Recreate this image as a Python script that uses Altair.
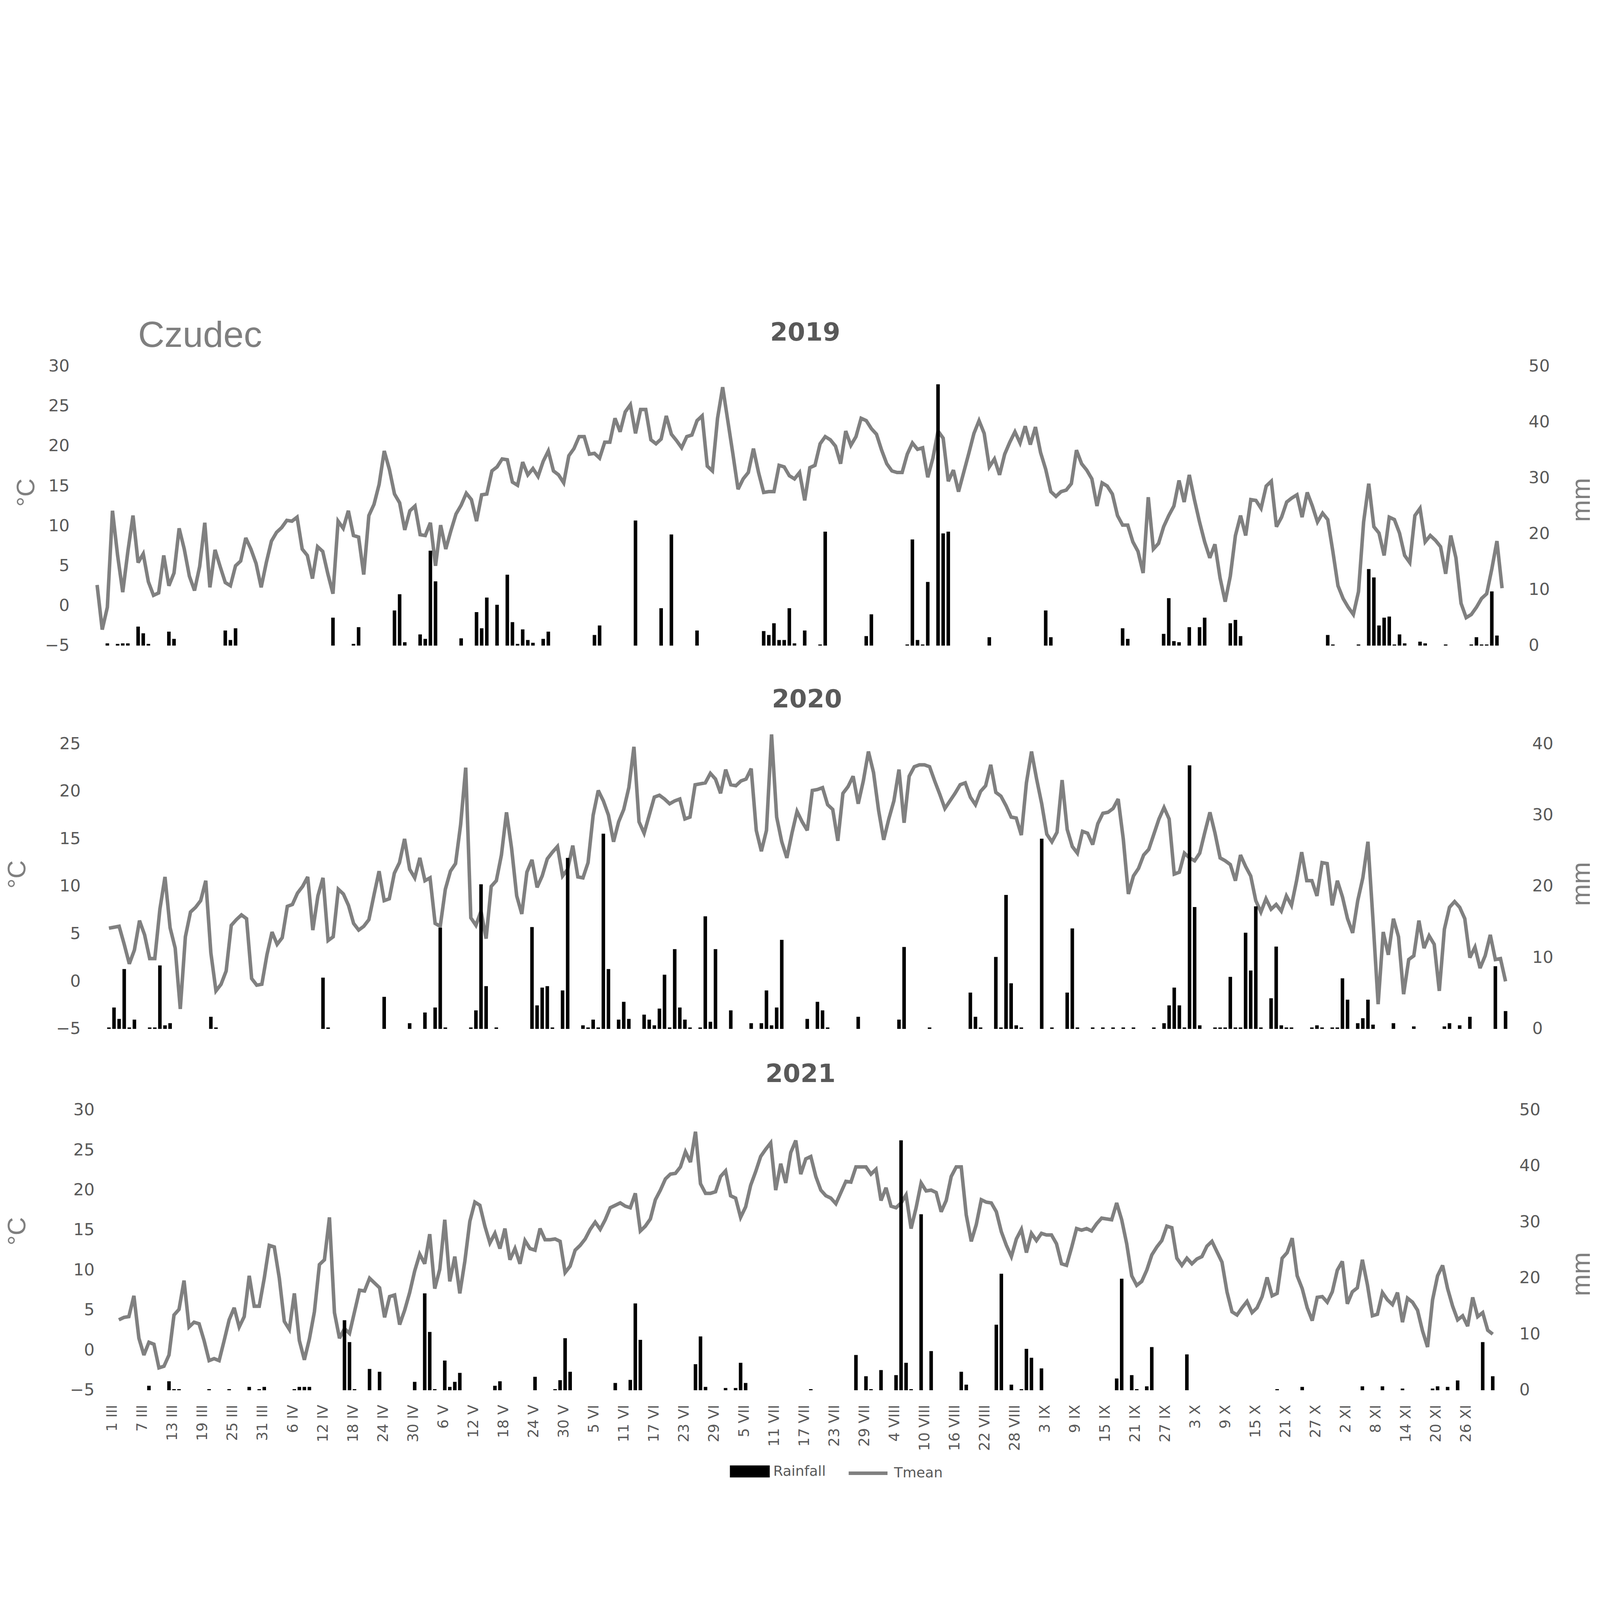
import altair as alt
import pandas as pd

# ---------------- data ----------------
STATION = "Czudec"

DATE_LABELS = [
    "1 III", "7 III", "13 III", "19 III", "25 III", "31 III",
    "6 IV", "12 IV", "18 IV", "24 IV", "30 IV",
    "6 V", "12 V", "18 V", "24 V", "30 V",
    "5 VI", "11 VI", "17 VI", "23 VI", "29 VI",
    "5 VII", "11 VII", "17 VII", "23 VII", "29 VII",
    "4 VIII", "10 VIII", "16 VIII", "22 VIII", "28 VIII",
    "3 IX", "9 IX", "15 IX", "21 IX", "27 IX",
    "3 X", "9 X", "15 X", "21 X", "27 X",
    "2 XI", "8 XI", "14 XI", "20 XI", "26 XI",
]

# daily mean temperature, 1 March .. 30 November (275 days)
TMEAN_2019 = [
    2.6, -3.0, -0.2, 11.9, 6.3, 1.7, 6.8, 11.3, 5.4, 6.5,
    3.0, 1.3, 1.6, 6.3, 2.5, 4.1, 9.7, 7.1, 3.7, 1.9,
    4.9, 10.4, 2.3, 7.0, 4.9, 2.9, 2.5, 5.0, 5.6, 8.5,
    7.1, 5.3, 2.3, 5.4, 8.1, 9.2, 9.8, 10.7, 10.6, 11.1,
    7.1, 6.3, 3.4, 7.4, 6.8, 4.0, 1.5, 10.6, 9.7, 11.9,
    8.8, 8.6, 3.9, 11.3, 12.7, 15.2, 19.4, 17.1, 14.0, 12.9,
    9.5, 11.9, 12.5, 8.9, 8.8, 10.4, 5.0, 10.1, 7.1, 9.4,
    11.5, 12.6, 14.1, 13.3, 10.6, 13.9, 14.0, 16.9, 17.4, 18.4,
    18.3, 15.5, 15.1, 18.0, 16.4, 17.2, 16.2, 18.1, 19.4, 16.9,
    16.4, 15.4, 18.8, 19.7, 21.2, 21.2, 19.0, 19.1, 18.5, 20.5,
    20.5, 23.5, 21.8, 24.3, 25.2, 21.6, 24.6, 24.6, 20.8, 20.3,
    20.9, 23.8, 21.5, 20.7, 19.8, 21.2, 21.4, 23.2, 23.8, 17.5,
    16.9, 23.5, 27.4, 23.2, 19.0, 14.6, 15.9, 16.7, 19.7, 16.7,
    14.2, 14.3, 14.3, 17.6, 17.4, 16.3, 15.9, 16.7, 13.2, 17.3,
    17.6, 20.3, 21.2, 20.8, 20.0, 17.8, 21.9, 20.1, 21.2, 23.5,
    23.2, 22.2, 21.5, 19.5, 17.8, 16.9, 16.7, 16.7, 19.0, 20.4,
    19.6, 19.8, 16.1, 18.5, 21.9, 21.0, 15.6, 17.0, 14.3, 16.7,
    19.1, 21.6, 23.2, 21.6, 17.4, 18.4, 16.4, 19.0, 20.5, 21.8,
    20.4, 22.5, 20.2, 22.4, 19.2, 17.1, 14.3, 13.7, 14.3, 14.5,
    15.3, 19.5, 17.8, 17.0, 15.9, 12.5, 15.4, 15.0, 14.0, 11.3,
    10.1, 10.1, 8.0, 6.8, 4.1, 13.6, 7.1, 7.8, 9.9, 11.3,
    12.5, 15.7, 13.0, 16.4, 13.3, 10.5, 8.0, 6.0, 7.7, 3.5,
    0.5, 3.7, 8.8, 11.3, 8.8, 13.3, 13.2, 12.2, 15.0, 15.6,
    9.9, 11.1, 13.0, 13.5, 13.9, 11.1, 14.2, 12.5, 10.5, 11.6,
    10.8, 6.8, 2.5, 0.9, -0.2, -1.1, 1.75, 10.5, 15.3, 9.9,
    9.1, 6.3, 11.1, 10.8, 9.1, 6.3, 5.4, 11.3, 12.2, 8.0,
    8.8, 8.2, 7.4, 4.0, 8.8, 6.0, 0.3, -1.5, -1.1, -0.2,
    0.9, 1.5, 4.6, 8.1, 2.2,
]

TMEAN_2020 = [
    5.6, 5.7, 5.8, 3.9, 1.85, 3.3, 6.4, 4.9, 2.4, 2.4,
    7.6, 11.0, 5.65, 3.5, -2.9, 4.7, 7.3, 7.8, 8.5, 10.6,
    3.0, -1.0, -0.3, 1.1, 5.9, 6.5, 7.0, 6.6, 0.3, -0.4,
    -0.3, 2.8, 5.2, 3.9, 4.6, 7.9, 8.1, 9.3, 10.0, 11.0,
    5.4, 9.0, 10.9, 4.3, 4.7, 9.7, 9.2, 8.0, 6.1, 5.4,
    5.8, 6.5, 9.1, 11.6, 8.5, 8.7, 11.4, 12.5, 15.0, 11.8,
    10.9, 13.0, 10.6, 10.9, 6.1, 5.8, 9.7, 11.6, 12.4, 16.5,
    22.5, 6.7, 5.9, 7.4, 4.5, 10.0, 10.6, 13.3, 17.8, 14.0,
    9.0, 7.1, 11.5, 12.8, 9.9, 11.1, 12.9, 13.6, 14.2, 11.1,
    11.8, 14.3, 11.0, 10.9, 12.5, 17.5, 20.1, 19.0, 17.5, 14.7,
    16.8, 18.1, 20.4, 24.7, 16.8, 15.6, 17.5, 19.4, 19.6, 19.2,
    18.7, 19.0, 19.2, 17.1, 17.3, 20.7, 20.8, 20.9, 21.9, 21.3,
    19.8, 22.3, 20.7, 20.6, 21.1, 21.3, 22.4, 15.9, 13.7, 15.9,
    26.0, 17.3, 14.7, 13.0, 15.6, 17.9, 16.8, 15.9, 20.1, 20.2,
    20.4, 18.6, 18.1, 14.8, 19.8, 20.5, 21.6, 18.7, 21.1, 24.2,
    22.0, 18.0, 14.9, 17.1, 19.0, 22.3, 16.7, 21.6, 22.6, 22.8,
    22.8, 22.6, 21.1, 19.7, 18.2, 19.0, 19.8, 20.7, 20.9, 19.4,
    18.6, 20.0, 20.6, 22.8, 19.9, 19.5, 18.5, 17.3, 17.2, 15.4,
    20.9, 24.2, 21.3, 18.7, 15.5, 14.7, 15.7, 21.2, 16.0, 14.2,
    13.5, 15.8, 15.6, 14.4, 16.6, 17.7, 17.8, 18.2, 19.2, 15.0,
    9.2, 11.1, 11.9, 13.3, 13.9, 15.5, 17.1, 18.3, 17.1, 11.3,
    11.5, 13.5, 13.0, 12.7, 13.5, 15.7, 17.8, 15.6, 13.0, 12.7,
    12.3, 10.6, 13.3, 12.1, 11.1, 8.5, 7.3, 8.7, 7.6, 8.1,
    7.4, 9.0, 8.0, 10.6, 13.6, 10.6, 10.6, 9.0, 12.5, 12.4,
    8.0, 10.6, 8.9, 6.6, 5.1, 8.5, 10.9, 14.7, 6.4, -2.4,
    5.2, 2.8, 6.6, 4.7, -1.35, 2.3, 2.7, 6.4, 3.5, 4.8,
    3.9, -1.0, 5.5, 7.8, 8.4, 7.8, 6.6, 2.5, 3.6, 1.4,
    2.7, 4.9, 2.3, 2.4, 0.0,
]

TMEAN_2021 = [
    3.8, 4.1, 4.2, 6.8, 1.5, -0.6, 1.0, 0.75, -2.2, -2.0,
    -0.6, 4.4, 5.1, 8.7, 2.9, 3.5, 3.3, 1.2, -1.3, -1.05,
    -1.3, 1.2, 3.8, 5.3, 2.9, 4.2, 9.3, 5.5, 5.5, 9.0,
    13.1, 12.9, 9.0, 3.6, 2.6, 7.1, 1.2, -1.2, 1.4, 4.8,
    10.7, 11.3, 16.6, 4.7, 1.5, 2.7, 2.1, 4.8, 7.5, 7.4,
    9.0, 8.4, 7.8, 4.1, 6.7, 6.9, 3.2, 5.0, 7.2, 9.9,
    12.0, 10.8, 14.5, 7.7, 10.1, 16.3, 8.6, 11.7, 7.1, 11.1,
    16.1, 18.5, 18.1, 15.5, 13.4, 14.6, 12.7, 15.2, 11.3, 12.7,
    10.8, 13.7, 12.7, 12.5, 15.2, 13.8, 13.8, 13.9, 13.6, 9.7,
    10.5, 12.5, 13.1, 13.9, 15.1, 16.0, 15.1, 16.3, 17.8, 18.1,
    18.4, 18.0, 17.8, 19.6, 14.9, 15.5, 16.4, 18.8, 20.0, 21.4,
    22.0, 22.1, 22.9, 24.8, 23.5, 27.3, 20.8, 19.6, 19.6, 19.8,
    21.7, 22.4, 19.3, 19.0, 16.6, 17.9, 20.6, 22.3, 24.2, 25.1,
    25.9, 20.0, 23.3, 20.9, 24.7, 26.2, 22.0, 23.9, 24.2, 21.7,
    20.0, 19.3, 19.0, 18.3, 19.7, 21.1, 21.0, 22.9, 22.9, 22.9,
    22.0, 22.6, 18.7, 20.3, 18.0, 17.8, 18.4, 19.4, 15.2, 17.8,
    20.9, 19.9, 20.0, 19.7, 17.3, 18.7, 21.7, 22.9, 22.9, 16.9,
    13.6, 15.7, 18.8, 18.5, 18.4, 17.3, 14.8, 13.1, 11.7, 13.9,
    15.1, 12.2, 14.6, 13.7, 14.6, 14.4, 14.4, 13.3, 10.8, 10.6,
    12.8, 15.2, 15.0, 15.2, 14.9, 15.8, 16.5, 16.4, 16.3, 18.4,
    16.3, 13.3, 9.3, 8.1, 8.6, 10.0, 11.9, 12.9, 13.7, 15.5,
    15.3, 11.5, 10.6, 11.5, 10.8, 11.4, 11.7, 13.0, 13.6, 12.3,
    11.0, 7.3, 4.8, 4.4, 5.3, 6.1, 4.7, 5.3, 6.7, 9.1,
    6.8, 7.1, 11.5, 12.2, 14.0, 9.3, 7.7, 5.3, 3.7, 6.6,
    6.7, 6.0, 7.3, 10.0, 11.1, 5.8, 7.3, 7.8, 11.3, 8.2,
    4.3, 4.5, 7.2, 6.3, 5.7, 7.2, 3.5, 6.5, 6.0, 5.0,
    2.4, 0.4, 6.3, 9.3, 10.6, 7.7, 5.5, 3.8, 4.3, 3.0,
    6.6, 4.2, 4.7, 2.5, 2.0,
]

# daily rainfall (day index from 1 March, mm); days without rain are omitted
RAIN_2019 = [
    (2, 0.4), (4, 0.3), (5, 0.4), (6, 0.4), (8, 3.4), (9, 2.2), (10, 0.3), (14, 2.5),
    (15, 1.2), (25, 2.7), (26, 1.0), (27, 3.1), (46, 5.0), (50, 0.3), (51, 3.3),
    (58, 6.3), (59, 9.2), (60, 0.6), (63, 2.0), (64, 1.2), (65, 17.0), (66, 11.5),
    (71, 1.3), (74, 6.0), (75, 3.1), (76, 8.6), (78, 7.3), (80, 12.7), (81, 4.2),
    (82, 0.3), (83, 2.9), (84, 1.0), (85, 0.5), (87, 1.2), (88, 2.5), (97, 1.9),
    (98, 3.6), (105, 22.4), (110, 6.7), (112, 19.9), (117, 2.7), (130, 2.6),
    (131, 1.9), (132, 4.0), (133, 1.0), (134, 1.0), (135, 6.7), (136, 0.4),
    (138, 2.7), (141, 0.2), (142, 20.4), (150, 1.7), (151, 5.6), (158, 0.2),
    (159, 19.0), (160, 1.0), (161, 0.2), (162, 11.4), (164, 46.8), (165, 20.1),
    (166, 20.4), (174, 1.5), (185, 6.3), (186, 1.5), (200, 3.1), (201, 1.2),
    (208, 2.1), (209, 8.5), (210, 0.8), (211, 0.6), (213, 3.3), (215, 3.3),
    (216, 5.0), (221, 4.0), (222, 4.6), (223, 1.7), (240, 1.9), (241, 0.2),
    (246, 0.2), (248, 13.7), (249, 12.2), (250, 3.6), (251, 5.0), (252, 5.2),
    (253, 0.2), (254, 2.0), (255, 0.4), (258, 0.7), (259, 0.4), (263, 0.2),
    (268, 0.2), (269, 1.5), (270, 0.2), (271, 0.2), (272, 9.7), (273, 1.8),
]

RAIN_2020 = [
    (0, 0.2), (1, 3.0), (2, 1.4), (3, 8.4), (4, 0.2), (5, 1.3), (8, 0.2), (9, 0.2),
    (10, 8.9), (11, 0.5), (12, 0.8), (20, 1.7), (21, 0.2), (42, 7.2), (43, 0.2),
    (54, 4.5), (59, 0.8), (62, 2.3), (64, 3.0), (65, 14.2), (66, 0.2), (71, 0.2),
    (72, 2.6), (73, 20.3), (74, 6.0), (76, 0.2), (83, 14.3), (84, 3.3), (85, 5.8),
    (86, 6.0), (87, 0.2), (89, 5.4), (90, 24.0), (93, 0.5), (94, 0.2), (95, 1.3),
    (96, 0.2), (97, 27.4), (98, 8.4), (100, 1.3), (101, 3.8), (102, 1.4), (105, 2.0),
    (106, 1.3), (107, 0.5), (108, 2.85), (109, 7.6), (110, 0.2), (111, 11.2),
    (112, 3.0), (113, 1.3), (114, 0.2), (116, 0.2), (117, 15.8), (118, 1.0),
    (119, 11.2), (122, 2.6), (126, 0.8), (128, 0.8), (129, 5.4), (130, 0.5),
    (131, 3.0), (132, 12.5), (137, 1.4), (139, 3.8), (140, 2.6), (141, 0.2),
    (147, 1.7), (155, 1.3), (156, 11.5), (161, 0.2), (169, 5.1), (170, 1.7),
    (171, 0.2), (174, 10.1), (175, 0.2), (176, 18.8), (177, 6.4), (178, 0.5),
    (179, 0.2), (183, 26.7), (185, 0.2), (188, 5.1), (189, 14.1), (190, 0.2),
    (193, 0.2), (195, 0.2), (197, 0.2), (199, 0.2), (201, 0.2), (205, 0.2),
    (207, 0.8), (208, 3.3), (209, 5.8), (210, 3.3), (211, 0.2), (212, 37.0),
    (213, 17.1), (214, 0.5), (217, 0.2), (218, 0.2), (219, 0.2), (220, 7.3),
    (221, 0.2), (222, 0.2), (223, 13.5), (224, 8.2), (225, 17.2), (226, 0.2),
    (228, 4.3), (229, 11.55), (230, 0.5), (231, 0.2), (232, 0.2), (236, 0.2),
    (237, 0.5), (238, 0.2), (240, 0.2), (241, 0.2), (242, 7.1), (243, 4.1),
    (245, 0.8), (246, 1.5), (247, 4.1), (248, 0.6), (252, 0.8), (256, 0.35),
    (262, 0.35), (263, 0.8), (265, 0.5), (267, 1.7), (272, 8.8), (274, 2.5),
]

RAIN_2021 = [
    (6, 0.8), (10, 1.6), (11, 0.2), (12, 0.2), (18, 0.2), (22, 0.2), (26, 0.6),
    (28, 0.2), (29, 0.6), (35, 0.2), (36, 0.6), (37, 0.6), (38, 0.6), (45, 12.5),
    (46, 8.6), (47, 0.2), (50, 3.8), (52, 3.3), (59, 1.5), (61, 17.3), (62, 10.4),
    (63, 0.2), (65, 5.3), (66, 0.6), (67, 1.5), (68, 3.1), (75, 0.8), (76, 1.6),
    (83, 2.4), (87, 0.2), (88, 1.8), (89, 9.3), (90, 3.3), (99, 1.3), (102, 1.85),
    (103, 15.5), (104, 9.0), (115, 4.65), (116, 9.6), (117, 0.6), (121, 0.4),
    (123, 0.4), (124, 4.9), (125, 1.3), (138, 0.2), (147, 6.3), (149, 2.5),
    (150, 0.2), (152, 3.6), (155, 2.7), (156, 44.6), (157, 4.9), (158, 0.2),
    (160, 31.4), (162, 7.0), (168, 3.3), (169, 1.0), (175, 11.7), (176, 20.8),
    (178, 1.0), (180, 0.2), (181, 7.4), (182, 5.8), (184, 3.9), (199, 2.1),
    (200, 19.9), (202, 2.7), (203, 0.2), (205, 0.7), (206, 7.7), (213, 6.4),
    (231, 0.2), (236, 0.6), (248, 0.7), (252, 0.7), (256, 0.3), (262, 0.3),
    (263, 0.7), (265, 0.6), (267, 1.75), (272, 8.6), (274, 2.5),
]

SERIES = ["Rainfall", "Tmean"]

# ---------------- styling ----------------
FONT = "DejaVu Sans"
TITLE_FONT = "Liberation Sans"
TEXT_GRAY = "#595959"
LIGHT_GRAY = "#7f7f7f"
LINE_GRAY = "#808080"

LABEL_JS = "[" + ",".join("'%s'" % s for s in DATE_LABELS) + "]"

FILL_SCALE = alt.Scale(domain=[SERIES[0]], range=["#000000"])
STROKE_SCALE = alt.Scale(domain=[SERIES[1]], range=[LINE_GRAY])

FILL_LEGEND = alt.Legend(
    title=None, orient="none", legendX=2480, legendY=4303,
    symbolType="M-1,-0.3H1V0.3H-1Z", symbolSize=24964, symbolStrokeWidth=0,
    labelFont=FONT, labelFontSize=56, labelColor=TEXT_GRAY, labelOffset=14,
    labelLimit=600, padding=0,
)
STROKE_LEGEND = alt.Legend(
    title=None, orient="none", legendX=2944, legendY=4305,
    symbolType="stroke", symbolSize=23716, symbolStrokeWidth=14,
    labelFont=FONT, labelFontSize=56, labelColor=TEXT_GRAY, labelOffset=19,
    labelLimit=600, padding=0,
)


def panel(year, temps, rain, tmax, rmax, width, height, cfg):
    df_t = pd.DataFrame({"day": list(range(len(temps))), "t": temps,
                         "series": SERIES[1]})
    df_r = pd.DataFrame({"day": [d for d, _ in rain], "mm": [m for _, m in rain],
                         "series": SERIES[0]})
    xscale = alt.Scale(domain=cfg["xdom"], nice=False, zero=False)

    if cfg.get("labels"):
        xaxis = alt.Axis(
            values=list(range(0, 271, 6)), labelExpr=LABEL_JS + "[round(datum.value / 6)]",
            labelAngle=270, labelFont=FONT, labelFontSize=58, labelColor=TEXT_GRAY,
            labelPadding=57, labelOffset=-25, labelFlush=False, labelOverlap=False,
            labelBound=False, labelLimit=600, ticks=False, tickSize=0, domain=False,
            grid=False, title=None,
        )
    else:
        xaxis = None

    left_axis = alt.Axis(
        orient="left", values=list(range(-5, tmax + 1, 5)), grid=False, domain=False,
        ticks=False, tickSize=0, labelFont=FONT, labelFontSize=66, labelColor=TEXT_GRAY,
        labelPadding=cfg["lpad"], title="°C", titleFont=TITLE_FONT, titleFontSize=100,
        titleFontWeight="normal", titleColor=LIGHT_GRAY, titleAngle=270,
        titleBaseline="bottom", titlePadding=196 - cfg["lpad"], titleY=cfg["cy"],
    )
    right_axis = alt.Axis(
        orient="right", values=list(range(0, rmax + 1, 10)), grid=False, domain=False,
        ticks=False, tickSize=0, labelFont=FONT, labelFontSize=66, labelColor=TEXT_GRAY,
        labelPadding=90, title="mm", titleFont=TITLE_FONT, titleFontSize=105,
        titleFontWeight="normal", titleColor=LIGHT_GRAY, titleAngle=270,
        titleBaseline="top", titlePadding=cfg["rtpad"], titleY=cfg["my"],
    )

    line = alt.Chart(df_t).mark_line(
        strokeWidth=14, strokeJoin="miter", strokeMiterLimit=3
    ).encode(
        x=alt.X("day:Q", scale=xscale, axis=xaxis),
        y=alt.Y("t:Q", scale=alt.Scale(domain=cfg["tdom"], nice=False, zero=False),
                axis=left_axis),
        stroke=alt.Stroke("series:N", scale=STROKE_SCALE, legend=STROKE_LEGEND),
    )
    bars = alt.Chart(df_r).mark_bar(size=14).encode(
        x=alt.X("day:Q", scale=xscale, axis=xaxis),
        y=alt.Y("mm:Q", scale=alt.Scale(domain=cfg["rdom"], nice=False, zero=False),
                axis=right_axis),
        y2=alt.datum(0),
        fill=alt.Fill("series:N", scale=FILL_SCALE, legend=FILL_LEGEND),
    )
    layers = [line, bars]
    if cfg.get("station"):
        station = alt.Chart(pd.DataFrame({"name": [STATION]})).mark_text(
            align="left", baseline="alphabetic", font=TITLE_FONT, fontSize=145,
            fontWeight="normal", color=LIGHT_GRAY,
        ).encode(text="name:N", x=alt.value(133), y=alt.value(-77))
        layers.append(station)
    return alt.layer(*layers).resolve_scale(y="independent").properties(
        width=width, height=height,
        title=alt.TitleParams(
            str(year), anchor="middle", frame="group", font=FONT, fontSize=100,
            fontWeight="bold", color=TEXT_GRAY, baseline="bottom", offset=cfg["toff"],
        ),
    )


p2019 = panel(2019, TMEAN_2019, RAIN_2019, 30, 50, 5557, 1175, dict(
    station=True, xdom=[1.69, 274.49], tdom=[-7.15, 30], rdom=[-3.07, 50],
    lpad=139, rtpad=76, toff=-211, cy=500, my=529))
p2020 = panel(2020, TMEAN_2020, RAIN_2020, 25, 40, 5571, 1130, dict(
    xdom=[-0.62, 274.5], tdom=[-5, 25], rdom=[0, 40],
    lpad=95, rtpad=62, toff=-35, cy=517, my=555))
p2021 = panel(2021, TMEAN_2021, RAIN_2021, 30, 50, 5520, 1111, dict(
    labels=True, xdom=[-2.61, 274.5], tdom=[-5, 30], rdom=[0, 50],
    lpad=40, rtpad=113, toff=-43, cy=480, my=650))

chart = alt.vconcat(
    p2019, p2020, p2021, spacing=322, bounds="flush"
).resolve_scale(
    x="independent", y="independent", fill="shared", stroke="shared"
).properties(
    autosize=alt.AutoSizeParams(type="none"),
    padding={"left": 402, "top": 182, "right": 5918, "bottom": 4403},
    background="white",
).configure_view(stroke=None)

chart.save("out.html", embed_options={"renderer": "svg", "actions": False})
